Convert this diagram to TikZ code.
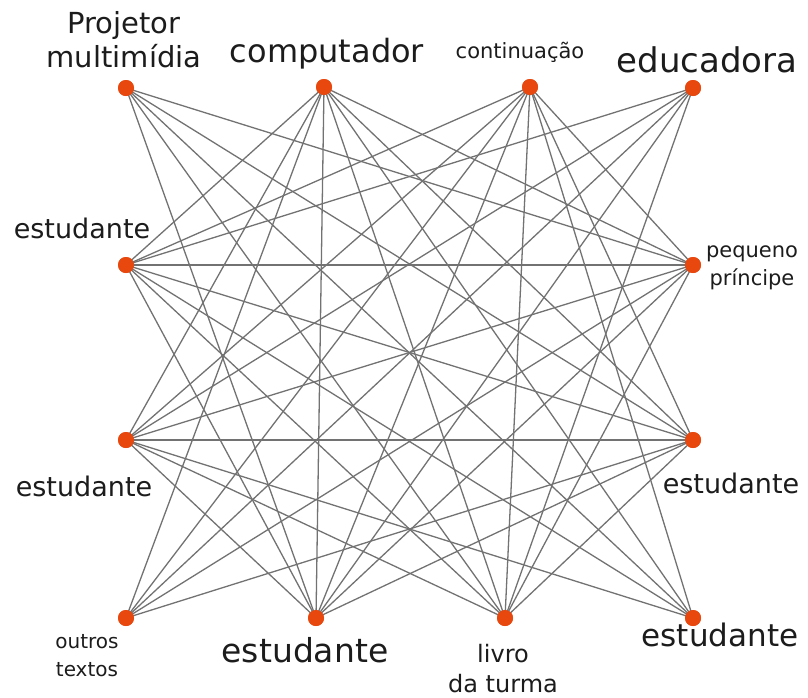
\documentclass[tikz,border=0pt]{standalone}
\usepackage{fontspec}
\setmainfont{DejaVu Sans}
\definecolor{dotorange}{HTML}{E8480E}
\definecolor{tiegray}{HTML}{727272}
\definecolor{inkgray}{HTML}{1C1C1C}

\begin{document}
\begin{tikzpicture}[x=1pt, y=-1pt,
  actor/.style={circle, fill=dotorange, inner sep=0pt, minimum size=16pt},
  tie/.style={draw=tiegray, line width=1.3pt},
  lbl/.style={text=inkgray, inner sep=0pt, align=center, anchor=base}]
  \useasboundingbox (0, 0) rectangle (808, 697);

  % actors on the border of the square
  \node[actor] (proj) at (126,  88) {};
  \node[actor] (comp) at (324,  87) {};
  \node[actor] (cont) at (530,  87) {};
  \node[actor] (educ) at (693,  88) {};
  \node[actor] (estA) at (126, 265) {};
  \node[actor] (estB) at (126, 440) {};
  \node[actor] (outr) at (126, 618) {};
  \node[actor] (pequ) at (693, 265) {};
  \node[actor] (estC) at (693, 440) {};
  \node[actor] (estD) at (693, 618) {};
  \node[actor] (estE) at (316, 618) {};
  \node[actor] (livr) at (505, 618) {};

  % ties: every pair not on the same side
  \foreach \a/\b in {proj/pequ, proj/estC, proj/estD, proj/estE, proj/livr,
    comp/estA, comp/estB, comp/outr, comp/estE, comp/livr, comp/estD,
    comp/pequ, comp/estC,
    cont/estA, cont/estB, cont/outr, cont/estE, cont/livr, cont/estD,
    cont/pequ, cont/estC,
    educ/estA, educ/estB, educ/outr, educ/estE, educ/livr,
    estA/pequ, estA/estC, estA/estD, estA/estE, estA/livr,
    estB/pequ, estB/estC, estB/estD, estB/estE, estB/livr,
    outr/pequ, outr/estC,
    pequ/estE, pequ/livr,
    estC/estE, estC/livr}
    \draw[tie] (\a.center) -- (\b.center);

  % dots again on top of the ties
  \foreach \n in {proj, comp, cont, educ, estA, estB, outr, pequ, estC, estD,
    estE, livr}
    \fill[dotorange] (\n.center) circle (8);

  % labels (base = last line)
  \node[lbl, font=\fontsize{29}{34}\selectfont] (tproj) at (124, 67)
    {Projetor\\multimídia};
  \node[lbl, font=\fontsize{32}{38}\selectfont] (tcomp) at (327, 62) {computador};
  \node[lbl, font=\fontsize{21}{26}\selectfont] (tcont) at (520, 58) {continuação};
  \node[lbl, font=\fontsize{34}{40}\selectfont] (teduc) at (707, 72) {educadora};
  \node[lbl, font=\fontsize{27}{32}\selectfont] (testA) at (82, 238) {estudante};
  \node[lbl, font=\fontsize{27}{32}\selectfont] (testB) at (84, 496) {estudante};
  \node[lbl, font=\fontsize{21}{28}\selectfont] (tpequ) at (752, 285)
    {pequeno\\príncipe};
  \node[lbl, font=\fontsize{27}{32}\selectfont] (testC) at (731, 493) {estudante};
  \node[lbl, font=\fontsize{20}{28}\selectfont] (toutr) at (87, 676)
    {outros\\textos};
  \node[lbl, font=\fontsize{33}{38}\selectfont] (testE) at (305, 662) {estudante};
  \node[lbl, font=\fontsize{24}{30}\selectfont] (tlivr) at (503, 692)
    {livro\\da turma};
  \node[lbl, font=\fontsize{31}{36}\selectfont] (testD) at (720, 646) {estudante};
\end{tikzpicture}
\end{document}
